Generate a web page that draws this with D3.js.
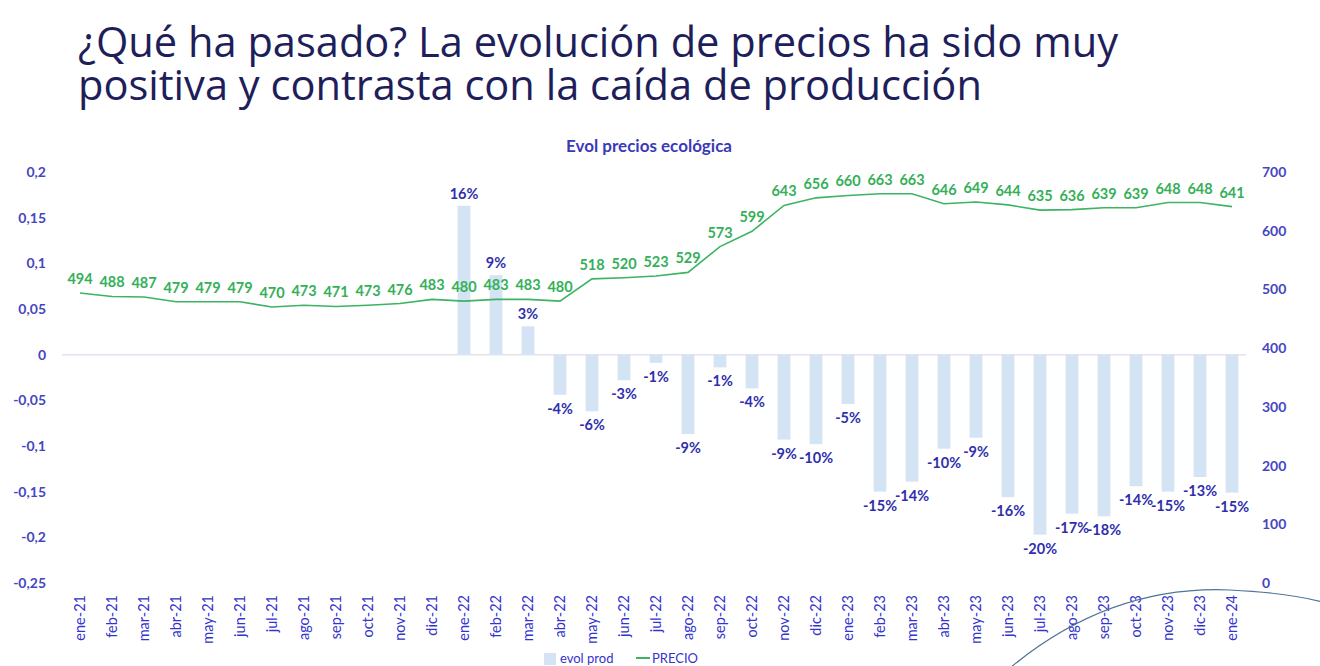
<!doctype html>
<html lang="es">
  <head>
    <meta charset="utf-8">
    <title>Evol precios ecológica</title>
    <script src="https://d3js.org/d3.v7.min.js"></script>
    <style>
      body { margin: 0; background: #fff; }
      svg { display: block; }
    </style>
  </head>
  <body>
    <svg width="1320" height="666"></svg>

    <script>
      // meses ene-21 .. ene-24
      var months = ['ene-21','feb-21','mar-21','abr-21','may-21','jun-21','jul-21','ago-21','sep-21','oct-21','nov-21','dic-21',
                    'ene-22','feb-22','mar-22','abr-22','may-22','jun-22','jul-22','ago-22','sep-22','oct-22','nov-22','dic-22',
                    'ene-23','feb-23','mar-23','abr-23','may-23','jun-23','jul-23','ago-23','sep-23','oct-23','nov-23','dic-23',
                    'ene-24'];

      // evol prod (barras, eje izq.), sin dato en 2021
      var evolProd = [null,null,null,null,null,null,null,null,null,null,null,null,
                      0.163,0.087,0.031,-0.044,-0.062,-0.028,-0.009,-0.087,-0.014,-0.037,-0.093,-0.098,
                      -0.054,-0.150,-0.139,-0.103,-0.091,-0.156,-0.197,-0.174,-0.177,-0.144,-0.150,-0.134,
                      -0.151];

      // PRECIO (línea, eje dcho.)
      var precio = [494,488,487,479,479,479,470,473,471,473,476,483,
                    480,483,483,480,518,520,523,529,573,599,643,656,
                    660,663,663,646,649,644,635,636,639,639,648,648,
                    641];

      var leftTicks = [0.2, 0.15, 0.1, 0.05, 0, -0.05, -0.1, -0.15, -0.2, -0.25];
      var rightTicks = [0, 100, 200, 300, 400, 500, 600, 700];

      var es = d3.formatLocale({decimal: ',', thousands: '.', grouping: [3], currency: ['', '€'], minus: '-'});
      var fmtLeft = es.format('.2~f');
      var fmtPct = es.format('.0%');

      var svg = d3.select('svg');
      var font = 'Lato, "Open Sans", sans-serif';
      var blue = '#3a3ab8';
      var green = '#34b058';

      // titulo de la diapositiva, ajustado al ancho de la referencia
      var titleLines = ['¿Qué ha pasado? La evolución de precios ha sido muy',
                        'positiva y contrasta con la caída de producción'];
      var title = svg.append('g').selectAll('text')
        .data(titleLines)
        .enter().append('text')
        .attr('x', 78)
        .attr('y', function(d, i){ return 57 + i * 43; })
        .style('font-family', '"Open Sans", sans-serif')
        .style('font-size', '40px')
        .style('fill', '#1e1e5a')
        .text(function(d){ return d; });
      var w0 = title.nodes()[0].getComputedTextLength();
      title.style('font-size', (40 * 1039 / w0).toFixed(1) + 'px');

      var x = d3.scaleBand().domain(months).range([64, 1248]).paddingInner(0.6).paddingOuter(0.3);
      var yL = d3.scaleLinear().domain([-0.25, 0.2]).range([583, 172]);
      var yR = d3.scaleLinear().domain([0, 700]).range([583, 172]);

      // titulo del grafico
      svg.append('text')
        .attr('x', 649).attr('y', 152)
        .attr('text-anchor', 'middle')
        .style('font-family', font)
        .style('font-size', '17px')
        .style('font-weight', 'bold')
        .style('fill', blue)
        .text('Evol precios ecológica');

      // ejes
      var gl = svg.append('g')
        .attr('transform', 'translate(50,0)')
        .call(d3.axisLeft(yL).tickValues(leftTicks).tickFormat(fmtLeft).tickSize(0).tickPadding(4));
      var gr = svg.append('g')
        .attr('transform', 'translate(1258,0)')
        .call(d3.axisRight(yR).tickValues(rightTicks).tickSize(0).tickPadding(4));
      [gl, gr].forEach(function(g){
        g.select('.domain').remove();
        g.selectAll('text')
          .style('font-family', font)
          .style('font-size', '14px')
          .style('font-weight', 'bold')
          .style('fill', '#4646c2');
      });

      var gx = svg.append('g')
        .attr('transform', 'translate(0,590)')
        .call(d3.axisBottom(x).tickSize(0).tickPadding(0));
      gx.select('.domain').remove();
      gx.selectAll('text')
        .attr('transform', 'rotate(-90)')
        .attr('text-anchor', 'end')
        .attr('x', -5).attr('y', 0).attr('dy', '0.35em')
        .style('font-family', font)
        .style('font-size', '14.5px')
        .style('fill', '#3434cc');

      // linea del cero
      svg.append('line')
        .attr('x1', 62).attr('x2', 1246)
        .attr('y1', yL(0)).attr('y2', yL(0))
        .style('stroke', '#e2e2ee').style('stroke-width', 1.5);

      // barras
      var barData = months.map(function(m, i){ return {m: m, v: evolProd[i]}; })
        .filter(function(d){ return d.v !== null; });

      svg.append('g').selectAll('rect')
        .data(barData)
        .enter().append('rect')
        .attr('x', function(d){ return x(d.m); })
        .attr('width', x.bandwidth())
        .attr('y', function(d){ return Math.min(yL(d.v), yL(0)); })
        .attr('height', function(d){ return Math.abs(yL(d.v) - yL(0)); })
        .style('fill', '#d5e4f5');

      svg.append('g').selectAll('text')
        .data(barData)
        .enter().append('text')
        .attr('x', function(d){ return x(d.m) + x.bandwidth() / 2; })
        .attr('y', function(d){ return d.v >= 0 ? yL(d.v) - 7 : yL(d.v) + 19; })
        .attr('text-anchor', 'middle')
        .style('font-family', font)
        .style('font-size', '14.5px')
        .style('font-weight', 'bold')
        .style('fill', '#2f2fae')
        .text(function(d){ return fmtPct(d.v); });

      // linea de precio
      var line = d3.line()
        .x(function(d, i){ return x(months[i]) + x.bandwidth() / 2; })
        .y(function(d){ return yR(d); });

      svg.append('path')
        .datum(precio)
        .attr('d', line)
        .style('fill', 'none')
        .style('stroke', '#3cb462')
        .style('stroke-width', 1.6);

      svg.append('g').selectAll('text')
        .data(precio)
        .enter().append('text')
        .attr('x', function(d, i){ return x(months[i]) + x.bandwidth() / 2; })
        .attr('y', function(d){ return yR(d) - 9; })
        .attr('text-anchor', 'middle')
        .style('font-family', font)
        .style('font-size', '14.5px')
        .style('font-weight', 'bold')
        .style('fill', green)
        .text(function(d){ return d; });

      // leyenda
      var lg = svg.append('g').attr('transform', 'translate(544,663)');
      lg.append('rect').attr('x', 0).attr('y', -10).attr('width', 12).attr('height', 12).style('fill', '#d5e4f5');
      lg.append('text').attr('x', 16).attr('y', 0)
        .style('font-family', font).style('font-size', '13px').style('fill', '#3434cc').text('evol prod');
      lg.append('line').attr('x1', 92).attr('x2', 106).attr('y1', -5).attr('y2', -5)
        .style('stroke', '#3cb462').style('stroke-width', 2);
      lg.append('text').attr('x', 108).attr('y', 0)
        .style('font-family', font).style('font-size', '13px').style('fill', '#3434cc').text('PRECIO');

      // adorno de la plantilla
      svg.append('path')
        .attr('d', 'M1010,668 Q1110,585 1230,590 Q1290,593 1322,602')
        .style('fill', 'none').style('stroke', '#4e7496').style('stroke-width', 1.2);
    </script>
  </body>
</html>
